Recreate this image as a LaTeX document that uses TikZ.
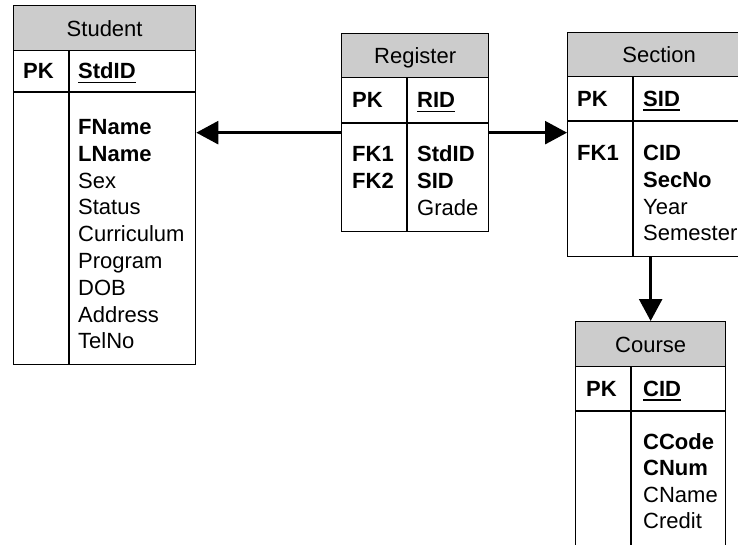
\documentclass[tikz,border=0pt]{standalone}
\usepackage{fontspec}
\setmainfont{Liberation Sans}
\usetikzlibrary{arrows.meta}

% underlined primary key
\newcommand{\keyname}[1]{\setbox0\hbox{#1}\rlap{\rule[-4.4pt]{\wd0}{1.7pt}}\box0}

\begin{document}
\begin{tikzpicture}[x=1pt,y=-1pt,
    every node/.style={font=\fontsize{22}{26.8}\selectfont},
    rule/.style={line width=1.3pt},
    tbl/.style={draw,rule,inner sep=0pt,anchor=north west},
    hdr/.style={tbl,fill=black!20,text height=15.8pt,text depth=0pt},
    txt/.style={anchor=west,inner sep=0pt,text height=15.8pt,text depth=0pt},
    key/.style={txt,font=\fontsize{22}{26.8}\selectfont\bfseries},
    link/.style={line width=2.6pt,-{Triangle[length=22pt,width=23pt]}}]
    \useasboundingbox (0,0) rectangle (738,544);
    \clip (0,0) rectangle (738,544);

    % Student table
    \node[hdr,minimum width=182pt,minimum height=45pt] (std-h) at (13,5) {Student};
    \node[tbl,minimum width=182pt,minimum height=359pt] (std) at (13,5) {};
    \draw[rule] (13,92) -- (195,92) (69,50) -- (69,364);
    \node[key] (std-pk) at (23,71) {PK};
    \node[key] (std-id) at (78,71) {\keyname{StdID}};
    \foreach \a [count=\i] in {\textbf{FName},\textbf{LName},Sex,Status,Curriculum,Program,DOB,Address,TelNo}
        \node[txt] (std-\i) at (78,99.7+26.8*\i) {\a};

    % Register table
    \node[hdr,minimum width=147pt,minimum height=44pt] (reg-h) at (341,33) {Register};
    \node[tbl,minimum width=147pt,minimum height=198pt] (reg) at (341,33) {};
    \draw[rule] (341,123) -- (488,123) (407,77) -- (407,231);
    \node[key] (reg-pk) at (352,100) {PK};
    \node[key] (reg-id) at (417,100) {\keyname{RID}};
    \node[key] (reg-fk1) at (352,154) {FK1};
    \node[key] (reg-fk2) at (352,180.8) {FK2};
    \foreach \a [count=\i] in {\textbf{StdID},\textbf{SID},Grade}
        \node[txt] (reg-\i) at (417,127.2+26.8*\i) {\a};

    % Section table
    \node[hdr,minimum width=183pt,minimum height=44pt] (sec-h) at (567,32) {Section};
    \node[tbl,minimum width=183pt,minimum height=224pt] (sec) at (567,32) {};
    \draw[rule] (567,121) -- (750,121) (633,76) -- (633,256);
    \node[key] (sec-pk) at (577,98.5) {PK};
    \node[key] (sec-id) at (643,98.5) {\keyname{SID}};
    \node[key] (sec-fk1) at (577,152.5) {FK1};
    \foreach \a [count=\i] in {\textbf{CID},\textbf{SecNo},Year,Semester}
        \node[txt] (sec-\i) at (643,125.7+26.8*\i) {\a};

    % Course table
    \node[hdr,minimum width=150pt,minimum height=45pt] (crs-h) at (575,321) {Course};
    \node[tbl,minimum width=150pt,minimum height=231pt] (crs) at (575,321) {};
    \draw[rule] (575,411) -- (725,411) (631,366) -- (631,552);
    \node[key] (crs-pk) at (586,388.5) {PK};
    \node[key] (crs-id) at (643,388.5) {\keyname{CID}};
    \foreach \a [count=\i] in {\textbf{CCode},\textbf{CNum},CName,Credit}
        \node[txt] (crs-\i) at (643,415.2+26.3*\i) {\a};

    % Links
    \draw[link] (reg.west) -- (reg.west -| std.east);
    \draw[link] (reg.east) -- (reg.east -| sec.west);
    \draw[link] (sec.south -| crs.north) -- (crs.north);
\end{tikzpicture}
\end{document}
